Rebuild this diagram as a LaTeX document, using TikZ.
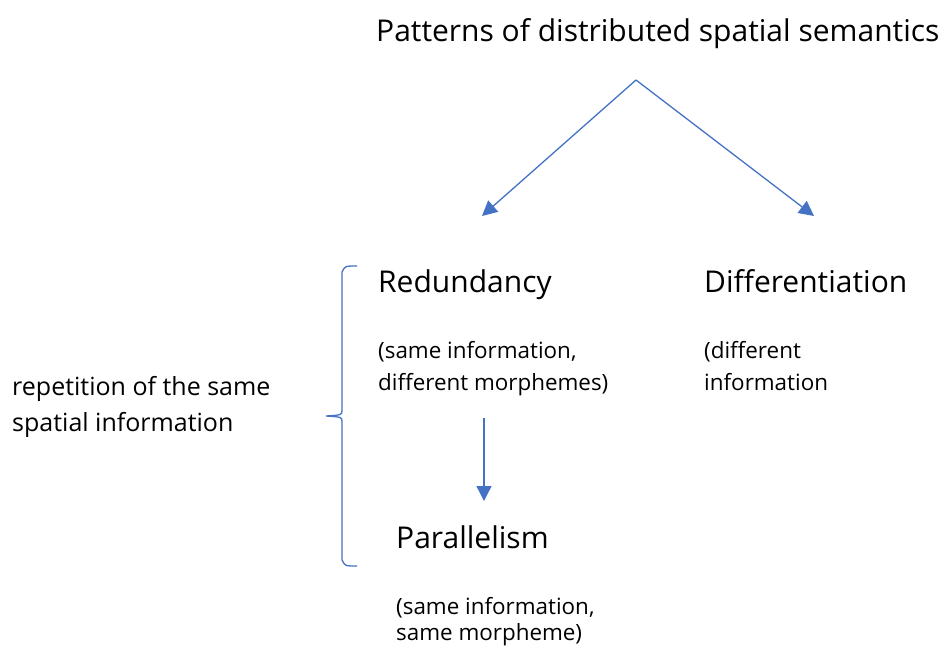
\documentclass[tikz,border=0pt]{standalone}
\usepackage{fontspec}
\setmainfont{Open Sans}
\usetikzlibrary{arrows.meta}
\definecolor{arr}{HTML}{4472C4}
\tikzset{
  big/.style={anchor=base west,inner sep=0pt,font=\fontsize{30}{36}\selectfont},
  small/.style={anchor=base west,inner sep=0pt,font=\fontsize{22.4}{27}\selectfont},
  side/.style={anchor=base west,inner sep=0pt,font=\fontsize{25}{30}\selectfont},
  conn/.style={draw=arr,line width=1.3pt,-{Triangle[length=15pt,width=15pt]}},
  brace/.style={draw=arr,line width=1.3pt}
}
\begin{document}
\begin{tikzpicture}[x=1pt,y=-1pt]
\useasboundingbox (0,0) rectangle (939,648);
\node[big] (title) at (376,41) {Patterns of distributed spatial semantics};
\node[big] (red) at (378,292) {Redundancy};
\node[small] (red1) at (378,358) {(same information,};
\node[small] (red2) at (378,390) {different morphemes)};
\node[big] (dif) at (704,292) {Differentiation};
\node[small] (dif1) at (704,358) {(different};
\node[small] (dif2) at (704,390) {information};
\node[side] (rep1) at (12,395) {repetition of the same};
\node[side] (rep2) at (12,431) {spatial information};
\node[big] (par) at (396,548) {Parallelism};
\node[small] (par1) at (396,614) {(same information,};
\node[small] (par2) at (396,640) {same morpheme)};
\coordinate (top) at (636,80);
\coordinate (lt) at (482,216);
\coordinate (rt) at (814,216);
\coordinate (ds) at (484,418);
\coordinate (de) at (484,501);
\draw[conn] (top) -- (lt);
\draw[conn] (top) -- (rt);
\draw[conn] (ds) -- (de);
\coordinate (bt) at (357,266);
\coordinate (bb) at (357,566);
\coordinate (tip) at (326,416);
\draw[brace] (bt) .. controls (345,266) .. (342,272) -- (342,410)
  .. controls (342,415) .. (tip) .. controls (342,417) .. (342,422) -- (342,560)
  .. controls (345,566) .. (bb);
\end{tikzpicture}
\end{document}
